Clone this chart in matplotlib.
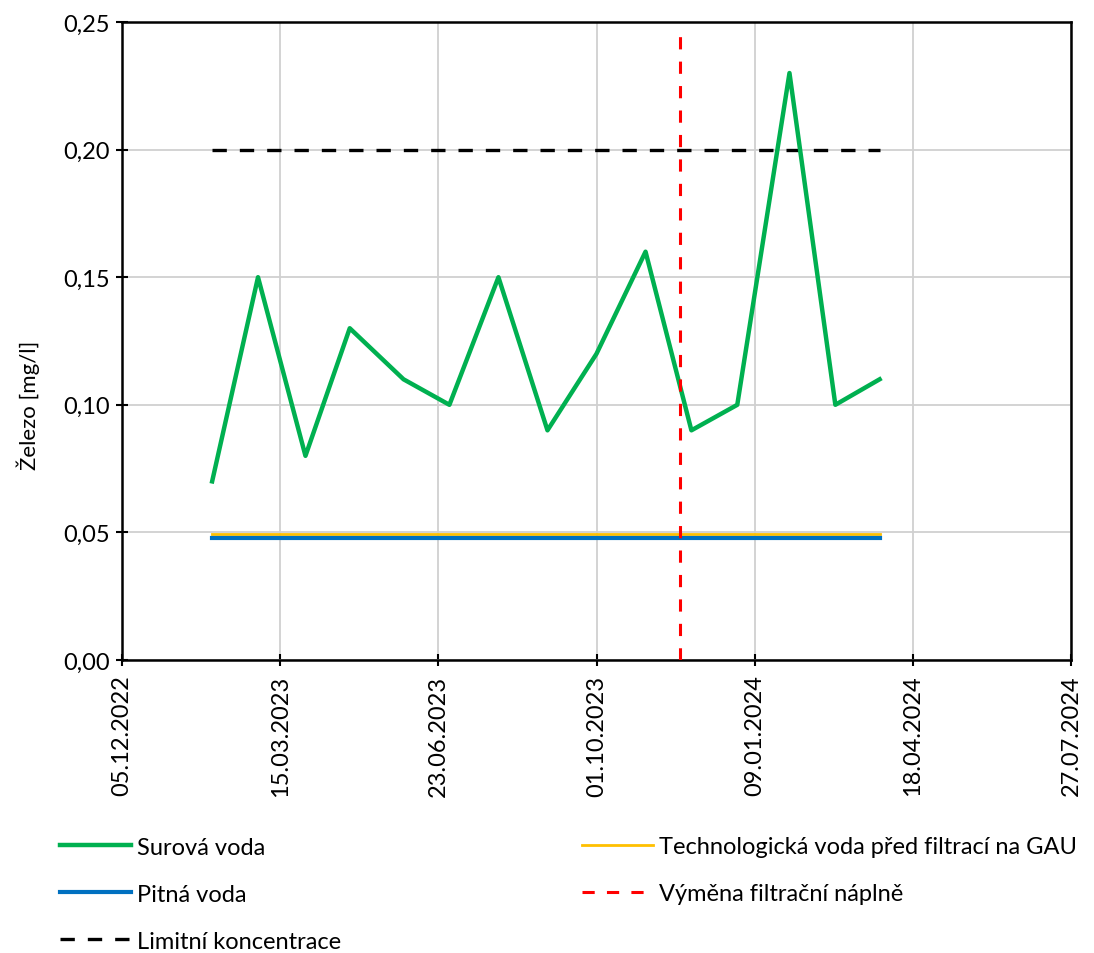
import numpy as np
import matplotlib
matplotlib.use("Agg")
import matplotlib.pyplot as plt
import matplotlib.dates as mdates
from matplotlib.ticker import FuncFormatter, MultipleLocator

plt.rcParams['font.family'] = ['Lato', 'DejaVu Sans']

# sampling dates
dates = np.array(['2023-01-31', '2023-03-01', '2023-03-31', '2023-04-28', '2023-06-01',
                  '2023-06-30', '2023-07-31', '2023-08-31', '2023-10-01', '2023-11-01',
                  '2023-11-30', '2023-12-29', '2024-01-31', '2024-02-29', '2024-03-28'],
                 dtype='datetime64[D]')
surova = [0.07, 0.15, 0.08, 0.13, 0.11, 0.10, 0.15, 0.09, 0.12, 0.16,
          0.09, 0.10, 0.23, 0.10, 0.11]
technologicka = [0.0495] * 15
pitna = [0.048] * 15
limit = [0.20] * 15
vymena_date = np.datetime64('2023-11-23')

tick_dates = np.array(['2022-12-05', '2023-03-15', '2023-06-23', '2023-10-01',
                       '2024-01-09', '2024-04-18', '2024-07-27'], dtype='datetime64[D]')

fig = plt.figure(figsize=(10.94, 9.54), dpi=100)
ax = fig.add_axes([0.1115, 0.3071, 0.8675, 0.6688])

l_sur, = ax.plot(dates, surova, color='#00B050', lw=3.2, label='Surová voda', zorder=4)
l_tech, = ax.plot(dates, technologicka, color='#FFC000', lw=2, label='Technologická voda před filtrací na GAU', zorder=3)
l_pit, = ax.plot(dates, pitna, color='#0070C0', lw=3, label='Pitná voda', zorder=3)
l_vym, = ax.plot([vymena_date, vymena_date], [0, 0.249], color='#FF0000', lw=2.2,
                 dashes=(4, 4), label='Výměna filtrační náplně', zorder=5)
l_lim, = ax.plot(dates, limit, color='black', lw=2.4, dashes=(4.3, 3.9),
                 label='Limitní koncentrace', zorder=3)

ax.set_xlim(tick_dates[0], tick_dates[-1])
ax.set_ylim(0, 0.25)
ax.set_xticks(tick_dates)
ax.xaxis.set_major_formatter(mdates.DateFormatter('%d.%m.%Y'))
ax.yaxis.set_major_locator(MultipleLocator(0.05))
ax.yaxis.set_major_formatter(FuncFormatter(lambda v, p: f'{v:.2f}'.replace('.', ',')))
plt.setp(ax.get_xticklabels(), rotation=90)
ax.tick_params(axis='both', direction='inout', length=9, width=1.5, labelsize=17, colors='black')
ax.tick_params(axis='x', pad=6)
ax.tick_params(axis='y', pad=4)
for s in ax.spines.values():
    s.set_linewidth(1.8)
    s.set_color('black')
ax.grid(True, color='#D0D0D0', lw=1.3)
ax.set_axisbelow(True)
ax.set_ylabel('Železo [mg/l]', fontsize=16)
ax.yaxis.set_label_coords(-0.086, 0.40)

leg_kw = dict(loc='center left', frameon=False, fontsize=17, handlelength=3.0,
              handletextpad=0.25, labelspacing=1.1, borderaxespad=0, borderpad=0)
leg1 = fig.legend(handles=[l_sur, l_pit, l_lim], bbox_to_anchor=(0.055, 0.0618), **leg_kw)
leg2 = fig.legend(handles=[l_tech, l_vym], bbox_to_anchor=(0.532, 0.0865), **leg_kw)

fig.savefig('out.png', dpi=100)
